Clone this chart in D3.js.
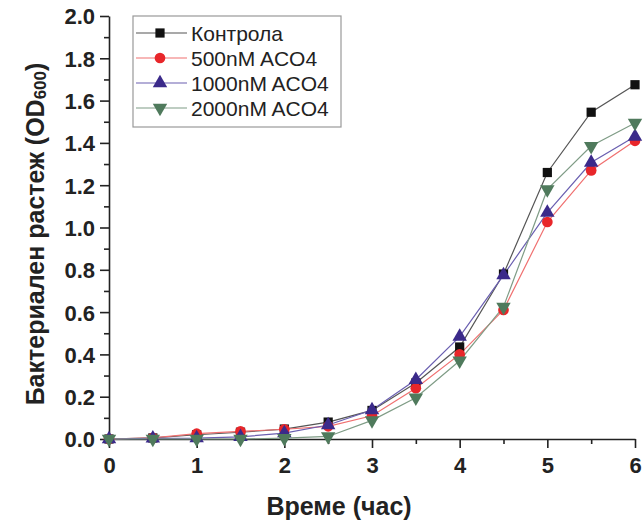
<!DOCTYPE html>
<meta charset="utf-8">
<style>
body { margin: 0; background: #fff; }
text { font-family: "Liberation Sans", Arial, sans-serif; fill: #222; }
.tick text { font-weight: bold; font-size: 22px; }
.domain, .tick line { stroke: #222; stroke-width: 1.6px; }
</style>
<body>
<script src="https://d3js.org/d3.v7.min.js"></script>
<script>

// hours
var hours = [0, 0.5, 1, 1.5, 2, 2.5, 3, 3.5, 4, 4.5, 5, 5.5, 6];

// OD600 values for each series
var control = [0, 0.005, 0.02, 0.032, 0.047, 0.08, 0.135, 0.265, 0.435, 0.78, 1.26, 1.545, 1.675];
var aco500  = [0, 0.005, 0.025, 0.036, 0.046, 0.06, 0.11, 0.24, 0.40, 0.61, 1.026, 1.27, 1.41];
var aco1000 = [0, 0.003, 0.004, 0.01, 0.028, 0.066, 0.137, 0.28, 0.484, 0.775, 1.07, 1.307, 1.43];
var aco2000 = [0, 0.0, 0.0, 0.0, 0.004, 0.012, 0.088, 0.195, 0.37, 0.625, 1.18, 1.385, 1.494];

var seriesNames = ["Контрола", "500nM ACO4", "1000nM ACO4", "2000nM ACO4"];
var xTicks = [0, 1, 2, 3, 4, 5, 6];
var yTicks = [0, 0.2, 0.4, 0.6, 0.8, 1.0, 1.2, 1.4, 1.6, 1.8, 2.0];

var series = [
  {name: seriesNames[0], values: control, line: "#555", fill: "#111", shape: d3.symbolSquare, size: 85},
  {name: seriesNames[1], values: aco500, line: "#f07070", fill: "#e8262a", shape: d3.symbolCircle, size: 90},
  {name: seriesNames[2], values: aco1000, line: "#6a5fb0", fill: "#3b2a8a", shape: d3.symbolTriangle, size: 90},
  {name: seriesNames[3], values: aco2000, line: "#7f9c86", fill: "#4f7a5c", shape: d3.symbolTriangle, size: 90, flip: true}
];

var width = 643, height = 525;
var mLeft = 109, mRight = 635, mTop = 16, mBottom = 439;

var svg = d3.select("body").append("svg")
    .attr("width", width)
    .attr("height", height);

var x = d3.scaleLinear().domain([0, 6]).range([mLeft, mRight]);
var y = d3.scaleLinear().domain([0, 2]).range([mBottom, mTop]);

// minor ticks
svg.append("g")
    .attr("transform", "translate(0," + mBottom + ")")
    .call(d3.axisBottom(x).tickValues(d3.range(0.5, 6, 1)).tickSize(5).tickFormat(""))
    .select(".domain").remove();
svg.append("g")
    .attr("transform", "translate(" + mLeft + ",0)")
    .call(d3.axisLeft(y).tickValues(d3.range(0.1, 2, 0.2)).tickSize(5).tickFormat(""))
    .select(".domain").remove();

// main axes
svg.append("g")
    .attr("transform", "translate(0," + mBottom + ")")
    .call(d3.axisBottom(x).tickValues(xTicks).tickSize(9).tickSizeOuter(0).tickPadding(9).tickFormat(d3.format("d")));
svg.append("g")
    .attr("transform", "translate(" + mLeft + ",0)")
    .call(d3.axisLeft(y).tickValues(yTicks).tickSize(9).tickSizeOuter(0).tickPadding(5).tickFormat(d3.format(".1f")))
    .selectAll(".tick text").attr("dy", "0.36em");

// axis titles
svg.append("text")
    .attr("x", 339).attr("y", 515)
    .attr("text-anchor", "middle")
    .style("font-weight", "bold").style("font-size", "25px")
    .text("Време (час)");

var yt = svg.append("text")
    .attr("transform", "translate(44,234) rotate(-90)")
    .attr("text-anchor", "middle")
    .style("font-weight", "bold").style("font-size", "25px");
yt.append("tspan").text("Бактериален растеж (OD");
yt.append("tspan").style("font-size", "17px").attr("dy", "2").text("600");
yt.append("tspan").attr("dy", "-2").text(")");

var line = d3.line()
    .x(function(d, i) { return x(hours[i]); })
    .y(function(d) { return y(d); });

function marker(g, s, cx, cy) {
  g.append("path")
      .attr("d", d3.symbol().type(s.shape).size(s.size)())
      .attr("transform", "translate(" + cx + "," + cy + ")" + (s.flip ? " rotate(180)" : ""))
      .attr("fill", s.fill);
}

series.forEach(function(s) {
  svg.append("path")
      .attr("d", line(s.values))
      .attr("fill", "none")
      .attr("stroke", s.line)
      .attr("stroke-width", 1.2);
});

series.forEach(function(s) {
  var g = svg.append("g");
  s.values.forEach(function(v, i) {
    marker(g, s, x(hours[i]), y(v));
  });
});

// legend
var lg = svg.append("g");
lg.append("rect")
    .attr("x", 133).attr("y", 16).attr("width", 208).attr("height", 111)
    .attr("fill", "#fff").attr("stroke", "#999").attr("stroke-width", 1.2);
series.forEach(function(s, i) {
  var ly = 33 + i * 25;
  lg.append("line")
      .attr("x1", 136).attr("x2", 187).attr("y1", ly).attr("y2", ly)
      .attr("stroke", s.line).attr("stroke-width", 1.2);
  marker(lg, s, 160, ly);
  lg.append("text")
      .attr("x", 191).attr("y", ly).attr("dy", "0.36em")
      .style("font-size", "21px")
      .text(s.name);
});

</script>
</body>
